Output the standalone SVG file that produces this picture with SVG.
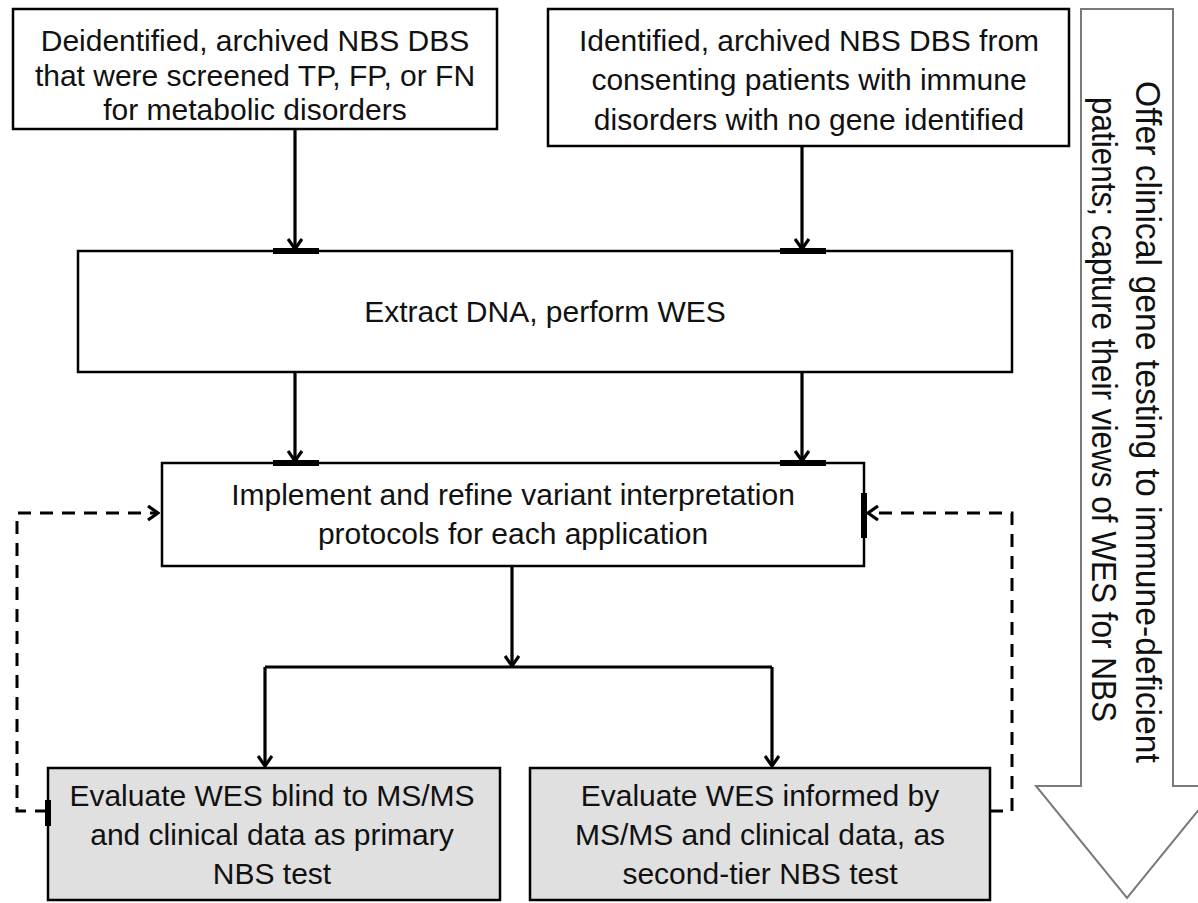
<svg xmlns="http://www.w3.org/2000/svg" width="1198" height="903" viewBox="0 0 1198 903">
<style>
.box{fill:#fff;stroke:#000;stroke-width:2.5}
.gbox{fill:#e0e0e0;stroke:#000;stroke-width:2.5}
.t{font-family:"Liberation Sans",Arial,sans-serif;font-size:30px;fill:#111;text-anchor:middle}
.ta{font-family:"Liberation Sans",Arial,sans-serif;font-size:35px;fill:#111}
.ln{fill:none;stroke:#000;stroke-width:3.2}
.dl{fill:none;stroke:#000;stroke-width:3;stroke-dasharray:13 9}
.bar{stroke:#000;stroke-width:6}
</style>
<defs>
<marker id="ah" markerWidth="16" markerHeight="16" viewBox="0 0 16 16" refX="14" refY="8" orient="auto" markerUnits="userSpaceOnUse">
<path d="M4,1 L14,8 L4,15" fill="none" stroke="#000" stroke-width="3.2"/>
</marker>
</defs>
<g id="arrow-side">
<path d="M1081,9 H1173 V786 H1218 L1127,898 L1036,786 H1081 Z" fill="#fff" stroke="#7a7a7a" stroke-width="2"/>
<text class="ta" transform="translate(1136,81) rotate(90)" textLength="682" lengthAdjust="spacingAndGlyphs">Offer clinical gene testing to immune-deficient</text>
<text class="ta" transform="translate(1092,97) rotate(90)" textLength="625" lengthAdjust="spacingAndGlyphs">patients; capture their views of WES for NBS</text>
</g>
<g id="n1">
<rect class="box" x="13" y="9" width="484" height="120"/>
<text class="t" x="255" y="51">Deidentified, archived NBS DBS</text>
<text class="t" x="255" y="86">that were screened TP, FP, or FN</text>
<text class="t" x="255" y="120">for metabolic disorders</text>
</g>
<g id="n2">
<rect class="box" x="548" y="9" width="521" height="137"/>
<text class="t" x="809" y="51">Identified, archived NBS DBS from</text>
<text class="t" x="809" y="90">consenting patients with immune</text>
<text class="t" x="809" y="130">disorders with no gene identified</text>
</g>
<g id="n3">
<rect class="box" x="78" y="251" width="934" height="121"/>
<text class="t" x="545" y="322">Extract DNA, perform WES</text>
</g>
<g id="n4">
<rect class="box" x="162" y="463" width="702" height="103"/>
<text class="t" x="513" y="505">Implement and refine variant interpretation</text>
<text class="t" x="513" y="544">protocols for each application</text>
</g>
<g id="n5">
<rect class="gbox" x="48" y="768" width="452" height="132"/>
<text class="t" x="272" y="806">Evaluate WES blind to MS/MS</text>
<text class="t" x="272" y="845">and clinical data as primary</text>
<text class="t" x="272" y="884">NBS test</text>
</g>
<g id="n6">
<rect class="gbox" x="530" y="768" width="460" height="132"/>
<text class="t" x="760" y="806">Evaluate WES informed by</text>
<text class="t" x="760" y="845">MS/MS and clinical data, as</text>
<text class="t" x="760" y="884">second-tier NBS test</text>
</g>
<g id="connectors">
<line class="ln" x1="295" y1="129" x2="295" y2="249" marker-end="url(#ah)"/>
<line class="ln" x1="802" y1="146" x2="802" y2="249" marker-end="url(#ah)"/>
<line class="bar" x1="273" y1="251" x2="319" y2="251"/>
<line class="bar" x1="780" y1="251" x2="826" y2="251"/>
<line class="ln" x1="295" y1="372" x2="295" y2="461" marker-end="url(#ah)"/>
<line class="ln" x1="802" y1="372" x2="802" y2="461" marker-end="url(#ah)"/>
<line class="bar" x1="273" y1="463" x2="319" y2="463"/>
<line class="bar" x1="780" y1="463" x2="826" y2="463"/>
<line class="ln" x1="512" y1="566" x2="512" y2="666" marker-end="url(#ah)"/>
<path class="ln" d="M265,667 H772"/>
<line class="ln" x1="265" y1="667" x2="265" y2="766" marker-end="url(#ah)"/>
<line class="ln" x1="772" y1="667" x2="772" y2="766" marker-end="url(#ah)"/>
<path class="dl" d="M48,811 H17 V513 H158" marker-end="url(#ah)"/>
<path class="dl" d="M990,811 H1012 V513 H868" marker-end="url(#ah)"/>
<line class="bar" x1="48" y1="800" x2="48" y2="826"/>
<line class="bar" x1="864" y1="493" x2="864" y2="538"/>
</g>
</svg>
